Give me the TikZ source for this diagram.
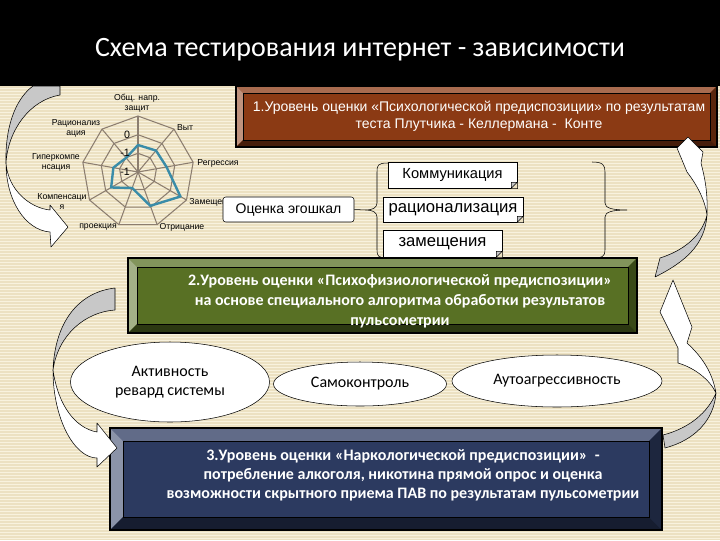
\documentclass[tikz,border=0pt]{standalone}
\usepackage{fontspec}
\setmainfont{Liberation Sans}
\newfontfamily\calib{Carlito}
\usetikzlibrary{shapes.geometric}

\definecolor{beige}{RGB}{236,225,194}
\definecolor{stripe}{RGB}{248,242,222}
\definecolor{brownface}{RGB}{139,58,20}
\definecolor{greenface}{RGB}{88,112,36}
\definecolor{blueface}{RGB}{44,58,96}
\definecolor{gridc}{RGB}{140,126,112}
\definecolor{datac}{RGB}{58,140,168}
\definecolor{arrowgrey}{RGB}{200,200,200}

% bevelled level box: name, x1, y1, x2, y2, colour, bevel
\newcommand{\bevbox}[7]{%
  \fill[#6] (#2,#3) rectangle (#4,#5);
  \fill[#6!75!white] (#2,#3) -- (#4,#3) -- ({#4-#7},{#3+#7}) -- ({#2+#7},{#3+#7}) -- cycle;
  \fill[#6!55!white] (#2,#3) -- ({#2+#7},{#3+#7}) -- ({#2+#7},{#5-#7}) -- (#2,#5) -- cycle;
  \fill[#6!65!black] (#4,#3) -- (#4,#5) -- ({#4-#7},{#5-#7}) -- ({#4-#7},{#3+#7}) -- cycle;
  \fill[#6!50!black] (#2,#5) -- (#4,#5) -- ({#4-#7},{#5-#7}) -- ({#2+#7},{#5-#7}) -- cycle;
  \draw[black, thick] (#2,#3) rectangle (#4,#5);
  \draw[black, thin] ({#2+#7},{#3+#7}) rectangle ({#4-#7},{#5-#7});
  \coordinate (#1) at ({(#2+#4)/2},{(#3+#5)/2});
}

\tikzset{
  chartlbl/.style={font=\fontsize{6.5}{7.5}\selectfont, align=center, inner sep=0pt},
  tagbox/.style={draw, fill=white, thin, inner sep=0pt},
  ovalbox/.style={ellipse, draw, fill=white, thin, inner sep=0pt, align=center,
    font=\calib\fontsize{12}{14}\selectfont},
  lvltext/.style={text=white, align=center, inner sep=0pt},
  bentarrow/.style={draw=black, thin, line join=round}
}

\begin{document}
\begin{tikzpicture}[x=0.75pt, y=-0.75pt]
  \useasboundingbox (0,0) rectangle (720,540);
  % background
  \fill [black] (0,0) rectangle (720,86);
  \fill [beige] (0,86) rectangle (720,540);
  \foreach \y in {88,91,...,540}
    \draw [stripe, line width=0.7pt] (0,\y) -- (720,\y);

  \node [text=white, font=\calib\fontsize{21}{24}\selectfont] (title) at (360,50)
    {Схема тестирования интернет - зависимости};

  % radar chart
  \begin{scope}[shift={(138,172)}]
    \foreach \r in {18.7,37.3,56}
      \draw [gridc, line width=0.8pt] (-90:\r) \foreach \k in {1,...,8}{ -- ({40*\k-90}:\r)} -- cycle;
    \foreach \k in {0,...,8}
      \draw [gridc, line width=0.8pt] (0,0) -- ({40*\k-90}:56);
    \draw [datac, line width=1.8pt, line join=round] (-90:27) -- (-50:28) -- (-10:29) -- (30:49)
      -- (70:36) -- (110:17) -- (150:31) -- (190:25) -- (230:18.5) -- cycle;
  \end{scope}
  \node [chartlbl] (ax0) at (137,103) {Общ. напр.\\защит};
  \node [chartlbl] (ax1) at (185,128) {Выт};
  \node [chartlbl] (ax2) at (218,163) {Регрессия};
  \node [chartlbl] (ax3) at (213,202) {Замещения};
  \node [chartlbl] (ax4) at (182,227) {Отрицание};
  \node [chartlbl] (ax5) at (98,227) {проекция};
  \node [chartlbl] (ax6) at (62,202) {Компенсаци\\я};
  \node [chartlbl] (ax7) at (56,162) {Гиперкомпе\\нсация};
  \node [chartlbl] (ax8) at (76,128) {Рационализ\\ация};
  \node [chartlbl, font=\fontsize{8}{9}\selectfont] (tick0) at (127,135) {0};
  \node [chartlbl, font=\fontsize{8}{9}\selectfont] (tick1) at (125,153) {-1};
  \node [chartlbl, font=\fontsize{8}{9}\selectfont] (tick2) at (125,172) {-1};

  % level boxes
  \bevbox{lvlone}{236}{86}{717}{147}{brownface}{7}
  \node [lvltext, font=\fontsize{10.5}{12.75}\selectfont] (txtone) at (479,116)
    {1.Уровень оценки «Психологической предиспозиции» по результатам\\теста Плутчика - Келлермана -\ \ Конте};
  \bevbox{lvltwo}{128}{258}{637}{333}{greenface}{9}
  \node [lvltext, font=\calib\bfseries\fontsize{12}{15}\selectfont] (txttwo) at (400,301)
    {2.Уровень оценки «Психофизиологической предиспозиции»\\на основе специального алгоритма обработки результатов\\пульсометрии};
  \bevbox{lvlthree}{110}{428}{662}{530}{blueface}{13}
  \node [lvltext, font=\calib\bfseries\fontsize{12}{14.3}\selectfont] (txtthree) at (403,475)
    {3.Уровень оценки «Наркологической предиспозиции»\ \ -\\потребление алкоголя, никотина прямой опрос и оценка\\возможности скрытного приема ПАВ по результатам пульсометрии};

  % ego scales
  \node [tagbox, rounded corners=2pt, minimum width=98.25pt, minimum height=18.75pt,
    font=\fontsize{10.5}{12}\selectfont] (ego) at (288.5,209.5) {Оценка эгошкал};
  \node [tagbox, minimum width=96.75pt, minimum height=19.5pt,
    font=\fontsize{11}{13}\selectfont] (kom) at (452.5,175) {Коммуникация};
  \node [tagbox, minimum width=105pt, minimum height=18.75pt,
    font=\fontsize{12.5}{14}\selectfont] (rac) at (453,209.5) {рационализация};
  \node [tagbox, minimum width=89.25pt, minimum height=20.25pt,
    font=\fontsize{12.5}{14}\selectfont] (zam) at (442.5,243.5) {замещения};
  \foreach \n in {kom,rac,zam} {
    \fill [beige] (\n.south east) -- ++(0,-6) -- ++(-6,6) -- cycle;
    \filldraw [fill=gray!45, thin] (\n.south east) ++(0,-6) -- ++(-6,6) -- ++(0,-6) -- cycle;
  }

  % braces
  \coordinate (lbr) at (366,210);
  \coordinate (rbr) at (627,210);
  \draw [thin] (388,163) .. controls (378,163) and (377,165) .. (377,172) -- (377,203)
    .. controls (377,208) and (372,210) .. (lbr) .. controls (372,210) and (377,212) .. (377,217)
    -- (377,250) .. controls (377,256) and (378,258) .. (388,258);
  \draw [thin] (592,162) .. controls (603,162) and (605,165) .. (605,172) -- (605,203)
    .. controls (605,208) and (612,210) .. (rbr) .. controls (612,210) and (605,212) .. (605,217)
    -- (605,250) .. controls (605,256) and (603,258) .. (592,258);
  \draw [thin] (ego.east) -- (lbr);

  % ovals
  \node [ovalbox, minimum width=149.25pt, minimum height=60pt] (rew) at (170,382)
    {Активность\\ревард системы};
  \node [ovalbox, minimum width=129.75pt, minimum height=33pt] (self) at (360,384) {Самоконтроль};
  \node [ovalbox, minimum width=157.5pt, minimum height=39pt] (auto) at (557,381) {Аутоагрессивность};

  % curved arrows
  \draw [bentarrow, fill=arrowgrey] (33,86) .. controls (14,100) and (5,130) .. (6,163)
    .. controls (8,130) and (30,100) .. (60,95) -- (60,86) -- cycle;
  \draw [bentarrow, fill=white] (6,163) .. controls (6,200) and (25,230) .. (50,232)
    -- (51,247) -- (68,227) -- (50,205) -- (50,210) .. controls (30,208) and (8,190) .. (6,163) -- cycle;

  \draw [bentarrow, fill=arrowgrey] (115,288) .. controls (80,292) and (55,320) .. (53,370)
    .. controls (58,335) and (85,312) .. (115,310) -- cycle;
  \draw [bentarrow, fill=white] (53,370) .. controls (53,420) and (75,458) .. (97,458)
    -- (97,467) -- (117,448) -- (97,423) -- (97,432) .. controls (75,428) and (58,405) .. (53,370) -- cycle;

  \draw [bentarrow, fill=arrowgrey] (707,215) .. controls (705,245) and (685,262) .. (655,277)
    -- (660,258) .. controls (685,250) and (702,235) .. (707,215) -- cycle;
  \draw [bentarrow, fill=white] (707,215) .. controls (708,190) and (704,175) .. (701,163)
    -- (703,152) -- (688,137) -- (677,148) -- (687,172) .. controls (697,185) and (705,200) .. (707,215) -- cycle;

  \draw [bentarrow, fill=arrowgrey] (716,393) .. controls (714,420) and (695,440) .. (665,448)
    -- (663,435) .. controls (690,428) and (708,412) .. (716,393) -- cycle;
  \draw [bentarrow, fill=white] (716,393) .. controls (712,370) and (700,355) .. (687,343)
    -- (692,327) -- (673,280) -- (660,312) -- (678,348) -- (678,363)
    .. controls (695,368) and (710,380) .. (716,393) -- cycle;
\end{tikzpicture}
\end{document}
